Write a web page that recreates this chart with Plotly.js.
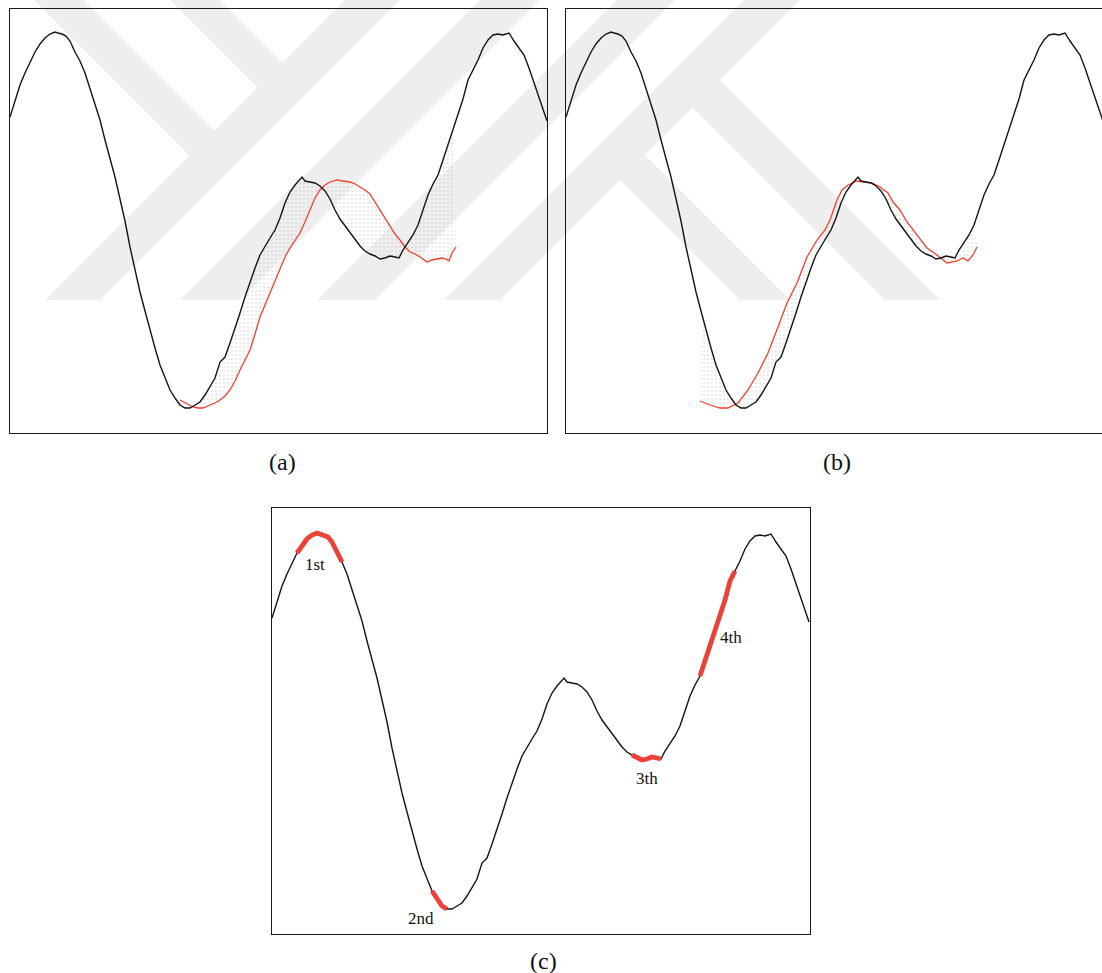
<!DOCTYPE html>
<html>
<head>
<meta charset="utf-8">
<script src="https://cdn.plot.ly/plotly-3.0.1.min.js"></script>
<style>
html,body{margin:0;padding:0;background:#ffffff;}
#chart{width:1102px;height:973px;}
</style>
</head>
<body>
<div id="chart"></div>
<script>
// ---- data: reference (black) signal, sample index vs amplitude ----
const refX = [0,5,10,15,20,25,30,35,40,45,48,52,56,60,65,70,75,80,85,90,95,100,105,110,115,120,125,130,135,140,145,150,155,160,165,170,175,180,185,190,195,200,205,210,215,220,225,230,235,240,245,250,255,260,265,270,275,280,285,290,292,295,300,305,310,315,320,325,330,335,340,345,350,355,360,365,370,375,380,385,389,393,398,403,408,413,418,423,428,433,438,443,448,453,458,463,468,473,478,483,488,493,499,504,509,514,519,524,529,534,537];
const refY = [316,333,348,360,371,381,389,395,399,401,400,399,397,392,381,372,360,345,329,313,293,275,256,234,212,186,163,141,122,103,85,68,55,43,35,28,25,25,28,31,38,47,55,71,76,90,104,120,136,151,165,178,187,195,203,215,230,241,248,253,256,252,251,250,247,242,234,223,214,207,201,193,187,182,179,177,174,175,177,176,175,183,190,198,208,222,238,249,258,273,288,304,320,334,353,363,373,385,393,398,399,398,400,392,385,378,365,350,335,320,312];

// ---- data: estimated (red) signal in panel (a) ----
const estAX = [170,176,183,188,193,200,205,210,215,220,225,230,235,240,245,250,255,260,265,270,275,280,285,290,295,300,305,310,315,320,327,333,340,345,350,355,360,365,370,375,380,385,390,395,400,405,410,417,422,427,432,436,439,442,446];
const estAY = [33,30,26,25,25,28,30,33,37,43,52,63,73,83,99,116,128,140,153,165,176,185,193,200,211,223,235,243,248,251,253,252,251,249,246,243,239,231,223,215,206,199,193,186,181,179,176,171,173,174,175,174,172,180,186];

// ---- data: estimated (red) signal in panel (b) ----
const estBX = [134,144,154,162,172,182,192,202,212,221,231,241,251,259,264,271,276,282,291,297,306,314,322,327,334,341,351,361,371,381,391,397,402,407,411];
const estBY = [32,28,25,25,30,43,60,80,106,130,150,176,193,203,213,233,243,248,252,251,250,246,240,231,223,211,198,185,178,170,172,175,172,178,186];

// ---- data: highlighted segments in panel (c) ----
const segStart = [25,160,360,425];
const segEnd   = [70,177,392,466];
const segLabels = ['1st','2nd','3th','4th'];
const panelLabels = ['(a)','(b)','(c)'];

// ---- layout helpers (figure pixels -> paper) ----
const W = 1102, H = 973;
const PX = x => x / W;
const PY = y => 1 - y / H;

const BLACK = '#141414';
const RED = '#f0402f';
const RED_THICK = '#ec4136';
const SERIF = 'Liberation Serif, Times New Roman, serif';

function sub(xs, ys, lo, hi) {
  const ox = [], oy = [];
  for (let i = 0; i < xs.length; i++) {
    if (xs[i] >= lo && xs[i] <= hi) { ox.push(xs[i]); oy.push(ys[i]); }
  }
  return {x: ox, y: oy};
}

const traces = [];
function comparePanel(ex, ey, xa, ya) {
  const lo = Math.min(...ex), hi = Math.max(...ex);
  const part = sub(refX, refY, lo, hi);
  traces.push({x: part.x, y: part.y, xaxis: xa, yaxis: ya, mode: 'lines',
    line: {width: 0, color: 'rgba(0,0,0,0)'}, hoverinfo: 'skip', showlegend: false});
  traces.push({x: ex, y: ey, xaxis: xa, yaxis: ya, mode: 'lines', fill: 'tonexty',
    fillcolor: 'rgba(255,255,255,0)',
    fillpattern: {shape: '.', fgcolor: '#a6a6a6', bgcolor: 'rgba(255,255,255,0)', size: 4, solidity: 0.07},
    line: {width: 1.3, color: RED}, showlegend: false});
  traces.push({x: refX, y: refY, xaxis: xa, yaxis: ya, mode: 'lines',
    line: {width: 1.4, color: BLACK}, showlegend: false});
}
comparePanel(estAX, estAY, 'x', 'y');
comparePanel(estBX, estBY, 'x2', 'y2');

traces.push({x: refX, y: refY, xaxis: 'x3', yaxis: 'y3', mode: 'lines',
  line: {width: 1.4, color: BLACK}, showlegend: false});

const annotations = [];
for (let k = 0; k < segStart.length; k++) {
  const s = sub(refX, refY, segStart[k], segEnd[k]);
  traces.push({x: s.x, y: s.y, xaxis: 'x3', yaxis: 'y3', mode: 'lines',
    line: {width: 4.8, color: RED_THICK}, showlegend: false});
}
// label offsets (pixels) relative to each segment's middle sample
const lblShift = [[-5,-30],[-21,-12],[0,-19],[11,-23]];
for (let k = 0; k < segStart.length; k++) {
  const s = sub(refX, refY, segStart[k], segEnd[k]);
  const m = Math.floor(s.x.length / 2);
  annotations.push({x: s.x[m], y: s.y[m], xref: 'x3', yref: 'y3', text: segLabels[k],
    showarrow: false, xshift: lblShift[k][0], yshift: lblShift[k][1],
    xanchor: 'center', yanchor: 'middle',
    font: {family: SERIF, size: 17, color: '#111'}});
}
const capPos = [[282,462],[837,462],[543,961]];
panelLabels.forEach((t, i) => annotations.push({x: PX(capPos[i][0]), y: PY(capPos[i][1]),
  xref: 'paper', yref: 'paper', text: t, showarrow: false,
  xanchor: 'center', yanchor: 'middle',
  font: {family: SERIF, size: 24, color: '#111'}}));

// ---- background watermark bands (decoration, figure pixels) ----
const bands = [
  [[345,0],[400,0],[100,300],[45,300]],
  [[480,0],[540,0],[240,300],[180,300]],
  [[617,0],[675,0],[375,300],[317,300]],
  [[744,0],[800,0],[500,300],[444,300]],
  [[34,0],[84,0],[222,138],[197,163]],
  [[170,0],[220,0],[290,70],[265,95]],
  [[612.5,172.5],[637.5,147.5],[790,300],[740,300]],
  [[685,100],[712.5,72.5],[940,300],[885,300]]
];
const shapes = bands.map(b => ({type: 'path', xref: 'paper', yref: 'paper', layer: 'below',
  path: 'M' + b.map(p => PX(p[0]).toFixed(5) + ',' + PY(p[1]).toFixed(5)).join('L') + 'Z',
  fillcolor: '#eeeeee', line: {width: 0}}));

function ax(domain, range, opts) {
  return Object.assign({domain: domain, range: range, showgrid: false, zeroline: false,
    showticklabels: false, ticks: '', showline: true, linecolor: '#1a1a1a', linewidth: 1.4,
    mirror: true, fixedrange: true}, opts || {});
}

const layout = {
  width: W, height: H,
  margin: {l: 0, r: 0, t: 0, b: 0},
  paper_bgcolor: '#ffffff', plot_bgcolor: 'rgba(0,0,0,0)',
  showlegend: false,
  xaxis:  ax([PX(10), PX(547)], [0, 537], {anchor: 'y'}),
  yaxis:  ax([PY(433), PY(9)], [0, 424], {anchor: 'x'}),
  xaxis2: ax([PX(566), 1], [0, 536], {anchor: 'y2'}),
  yaxis2: ax([PY(433), PY(9)], [0, 424], {anchor: 'x2', mirror: false}),
  xaxis3: ax([PX(272), PX(810)], [0, 538], {anchor: 'y3'}),
  yaxis3: ax([PY(934), PY(508)], [0, 426], {anchor: 'x3'}),
  shapes: shapes,
  annotations: annotations
};

Plotly.newPlot('chart', traces, layout, {displayModeBar: false, staticPlot: true});
</script>
</body>
</html>
